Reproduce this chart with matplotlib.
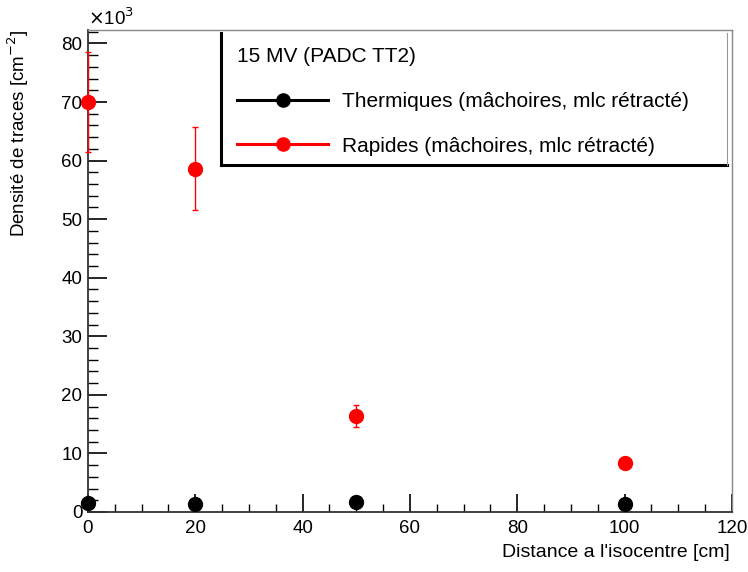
import matplotlib
matplotlib.use("Agg")
import matplotlib.pyplot as plt
from matplotlib.lines import Line2D
from matplotlib.ticker import MultipleLocator

plt.rcParams['font.family'] = ['Liberation Sans', 'DejaVu Sans']

# distance a l'isocentre (cm), densite en unites de 10^3 cm^-2
distance = [0, 20, 50, 100]
thermiques = [1.5, 1.3, 1.7, 1.4]
rapides = [70.0, 58.6, 16.4, 8.3]
rapides_err = [8.5, 7.1, 1.9, 0.3]

label_th = "Thermiques (mâchoires, mlc rétracté)"
label_ra = "Rapides (mâchoires, mlc rétracté)"
titre_leg = "15 MV (PADC TT2)"

fig = plt.figure(figsize=(7.48, 5.72), dpi=100)
ax = fig.add_axes([0.1176, 0.1049, 0.8610, 0.8427])

ax.errorbar(distance, rapides, yerr=rapides_err, fmt='o', color='red',
            ms=10, elinewidth=1, capsize=2, capthick=1, clip_on=False, zorder=3)
ax.plot(distance, thermiques, 'o', color='black', ms=10, clip_on=False, zorder=3)

ax.set_xlim(0, 120)
ax.set_ylim(0, 82.3)
ax.xaxis.set_major_locator(MultipleLocator(20))
ax.xaxis.set_minor_locator(MultipleLocator(5))
ax.yaxis.set_major_locator(MultipleLocator(10))
ax.yaxis.set_minor_locator(MultipleLocator(2))

ax.tick_params(axis='both', which='both', direction='in', labelsize=13.5)
ax.tick_params(axis='y', which='major', length=14, width=1.2, pad=4)
ax.tick_params(axis='y', which='minor', length=7, width=1)
ax.tick_params(axis='x', which='major', length=13, width=1.2, pad=6)
ax.tick_params(axis='x', which='minor', length=6, width=1)

for s in ['left', 'bottom']:
    ax.spines[s].set_color('#333333')
    ax.spines[s].set_linewidth(1.3)
for s in ['top', 'right']:
    ax.spines[s].set_color('#888888')
    ax.spines[s].set_linewidth(1)

ax.set_ylabel("Densité de traces [cm$^{-2}$]", fontsize=13.5, loc='top')
ax.yaxis.set_label_coords(-0.088, 1.0)
ax.set_xlabel("Distance a l'isocentre [cm]", fontsize=14, loc='right')
ax.xaxis.set_label_coords(0.997, -0.066)

ax.text(0.0, 1.003, r"$\times$10$^3$", transform=ax.transAxes, fontsize=13.5,
        ha='left', va='bottom')

handles = [
    Line2D([], [], color='black', lw=2.2, marker='o', ms=9.5),
    Line2D([], [], color='red', lw=2.2, marker='o', ms=9.5),
]
leg = ax.legend(handles, [label_th, label_ra], title=titre_leg,
                loc='upper left', bbox_to_anchor=(0.1964, 1.012),
                frameon=False, fontsize=15, title_fontsize=15,
                handlelength=4.37, handletextpad=0.67, labelspacing=1.24,
                borderpad=0.6, alignment='left')

# cadre de la legende : bords gauche et bas epais
ax.add_line(Line2D([0.2065, 0.2065], [0.72, 0.994], transform=ax.transAxes,
                   color='black', lw=2.2, clip_on=False))
ax.add_line(Line2D([0.2065, 0.992], [0.72, 0.72], transform=ax.transAxes,
                   color='black', lw=2.2, clip_on=False))
ax.add_line(Line2D([0.992, 0.992], [0.72, 0.994], transform=ax.transAxes,
                   color='#999999', lw=0.8, clip_on=False))

fig.savefig("out.png", dpi=100)
